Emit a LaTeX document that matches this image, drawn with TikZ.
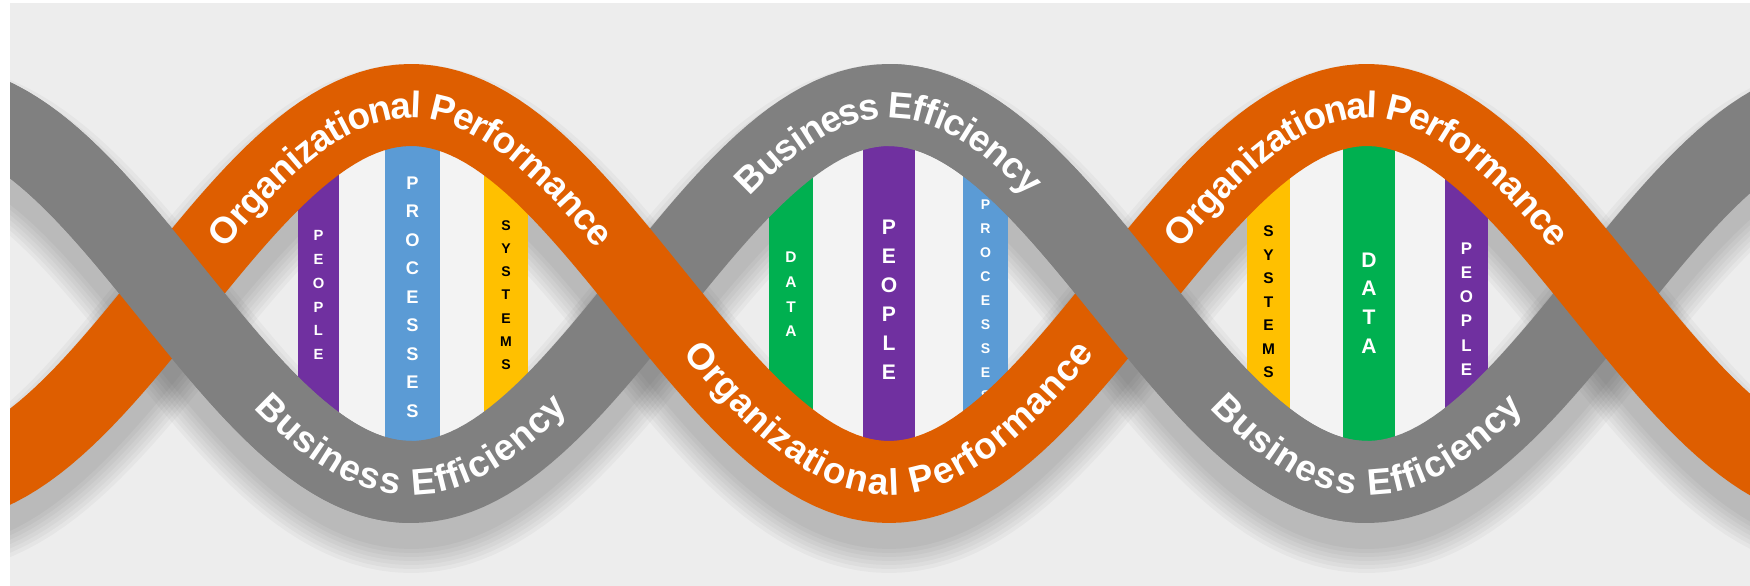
\documentclass[tikz,border=0pt]{standalone}
\usepackage{fontspec}
\setmainfont{Liberation Sans}
\usetikzlibrary{decorations.text}

\definecolor{bgcol}{HTML}{EDEDED}
\definecolor{strandorange}{HTML}{DE5E00}
\definecolor{strandgray}{HTML}{808080}
\definecolor{rungpurple}{HTML}{7030A0}
\definecolor{rungblue}{HTML}{5B9BD5}
\definecolor{rungyellow}{HTML}{FFC000}
\definecolor{runggreen}{HTML}{00B050}
\definecolor{rungstrip}{HTML}{F3F3F3}

\tikzset{
  declare function={helix(\x)=188.5*cos(0.376569*(\x-411));},
  strand/.style={line width=8.2mm, line join=round},
  strandshadow/.style={line width=#1, black, opacity=0.03, line join=round},
  bandtext/.style={decorate, decoration={text along path, text align=center,
      raise=-1.3mm, text color=white,
      text={|\bfseries\fontsize{10.5pt}{12pt}\selectfont|#1}}},
  rungtext/.style={align=center, inner sep=0pt},
}

\begin{document}
\begin{tikzpicture}[x=0.1mm, y=-0.1mm]
  \useasboundingbox[fill=white] (0,0) rectangle (1750,586);
  \fill[bgcol] (10,3) rectangle (1750,586);

  \begin{scope}
    \clip (10,3) rectangle (1750,586);

    % soft shadows under both strands
    \foreach \w in {8.4,9.2,10.0,10.8,11.6,12.4,13.2} {
      \draw[strandshadow=\w mm] plot[domain=-80:1830, samples=200] (\x, {318.5+helix(\x)});
      \draw[strandshadow=\w mm] plot[domain=-80:1830, samples=200] (\x, {318.5-helix(\x)});
    }

    % first loop
    \begin{scope}
      \clip plot[domain=172:650, samples=60] (\x, {293.5-helix(\x)})
        -- plot[domain=650:172, samples=60] (\x, {293.5+helix(\x)}) -- cycle;
      \fill[rungstrip] (298,0) rectangle (528,586);
      \fill[rungpurple] (298,0) rectangle (339,586);
      \fill[rungblue] (385,0) rectangle (440,586);
      \fill[rungyellow] (484,0) rectangle (528,586);
      \node[rungtext, text=white, font={\bfseries\fontsize{4.2pt}{6.8pt}\selectfont}] (people1) at (318.5,295) {P\\E\\O\\P\\L\\E};
      \node[rungtext, text=white, font={\bfseries\fontsize{5.2pt}{8.1pt}\selectfont}] (processes1) at (412.5,297) {P\\R\\O\\C\\E\\S\\S\\E\\S};
      \node[rungtext, text=black, font={\bfseries\fontsize{4pt}{6.6pt}\selectfont}] (systems1) at (506,295) {S\\Y\\S\\T\\E\\M\\S};
    \end{scope}

    % second loop
    \begin{scope}
      \clip plot[domain=650:1128, samples=60] (\x, {293.5-helix(\x)})
        -- plot[domain=1128:650, samples=60] (\x, {293.5+helix(\x)}) -- cycle;
      \fill[rungstrip] (769,0) rectangle (1008,586);
      \fill[runggreen] (769,0) rectangle (813,586);
      \fill[rungpurple] (863,0) rectangle (915,586);
      \fill[rungblue] (963,0) rectangle (1008,586);
      \node[rungtext, text=white, font={\bfseries\fontsize{4.4pt}{7pt}\selectfont}] (data2) at (791,294.5) {D\\A\\T\\A};
      \node[rungtext, text=white, font={\bfseries\fontsize{6pt}{8.25pt}\selectfont}] (people2) at (889,300) {P\\E\\O\\P\\L\\E};
      \node[rungtext, text=white, font={\bfseries\fontsize{4pt}{6.8pt}\selectfont}] (processes2) at (985.5,300.6) {P\\R\\O\\C\\E\\S\\S\\E\\S};
    \end{scope}

    % third loop
    \begin{scope}
      \clip plot[domain=1128:1606, samples=60] (\x, {293.5-helix(\x)})
        -- plot[domain=1606:1128, samples=60] (\x, {293.5+helix(\x)}) -- cycle;
      \fill[rungstrip] (1247,0) rectangle (1488,586);
      \fill[rungyellow] (1247,0) rectangle (1290,586);
      \fill[runggreen] (1343,0) rectangle (1395,586);
      \fill[rungpurple] (1445,0) rectangle (1488,586);
      \node[rungtext, text=black, font={\bfseries\fontsize{4.4pt}{6.7pt}\selectfont}] (systems3) at (1268.5,302) {S\\Y\\S\\T\\E\\M\\S};
      \node[rungtext, text=white, font={\bfseries\fontsize{6pt}{8.2pt}\selectfont}] (data3) at (1369,303) {D\\A\\T\\A};
      \node[rungtext, text=white, font={\bfseries\fontsize{4.8pt}{6.9pt}\selectfont}] (people3) at (1466.5,309) {P\\E\\O\\P\\L\\E};
    \end{scope}

    % strands, the falling part always lies on top
    \draw[strand, strandgray] plot[domain=-80:1830, samples=200] (\x, {293.5+helix(\x)});
    \draw[strand, strandorange] plot[domain=-80:1830, samples=200] (\x, {293.5-helix(\x)});
    \draw[strand, strandgray] plot[domain=-80:411, samples=80] (\x, {293.5+helix(\x)});
    \draw[strand, strandgray] plot[domain=889:1367, samples=80] (\x, {293.5+helix(\x)});

    % band labels
    \path[bandtext={Organizational Performance}] plot[domain=111:711, samples=120] (\x, {293.5-helix(\x)});
    \path[bandtext={Business Efficiency}] plot[domain=111:711, samples=120] (\x, {293.5+helix(\x)});
    \path[bandtext={Business Efficiency}] plot[domain=589:1189, samples=120] (\x, {293.5+helix(\x)});
    \path[bandtext={Organizational Performance}] plot[domain=589:1189, samples=120] (\x, {293.5-helix(\x)});
    \path[bandtext={Organizational Performance}] plot[domain=1067:1667, samples=120] (\x, {293.5-helix(\x)});
    \path[bandtext={Business Efficiency}] plot[domain=1067:1667, samples=120] (\x, {293.5+helix(\x)});
  \end{scope}
\end{tikzpicture}
\end{document}
